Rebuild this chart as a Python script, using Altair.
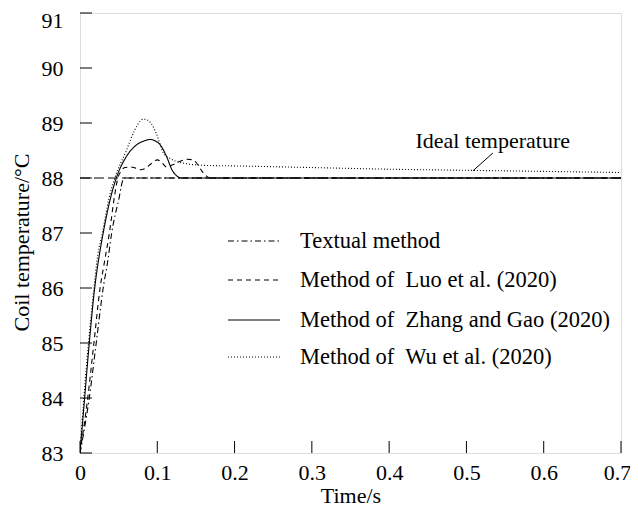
import altair as alt
import pandas as pd

# ---------------- data ----------------
series_names = [
    "Textual method",
    "Method of\u00a0 Luo et al. (2020)",
    "Method of\u00a0 Zhang and Gao (2020)",
    "Method of\u00a0 Wu et al. (2020)",
]

t_textual = [0, 0.012, 0.021, 0.030, 0.036, 0.041, 0.050, 0.057, 0.7]
v_textual = [83, 84, 85, 86, 86.5, 87, 87.6, 88, 88]

t_luo = [0, 0.010, 0.018, 0.026, 0.032, 0.038, 0.045, 0.049, 0.053, 0.058, 0.066, 0.072,
         0.078, 0.085, 0.092, 0.100, 0.106, 0.112, 0.120, 0.129, 0.138, 0.146, 0.152,
         0.158, 0.164, 0.170, 0.7]
v_luo = [83, 84, 85, 86, 86.5, 87, 87.7, 88, 88.12, 88.19, 88.2, 88.18,
         88.15, 88.18, 88.26, 88.33, 88.28, 88.2, 88.24, 88.3, 88.34, 88.33, 88.25,
         88.12, 88.03, 88.0, 88.0]

t_zhang = [0, 0.006, 0.012, 0.019, 0.025, 0.030, 0.038, 0.047, 0.060, 0.073, 0.082, 0.091,
           0.098, 0.104, 0.112, 0.119, 0.125, 0.132, 0.7]
v_zhang = [83, 84, 85, 86, 86.6, 87, 87.55, 88, 88.39, 88.6, 88.67, 88.70,
           88.67, 88.6, 88.39, 88.15, 88.04, 88.0, 88.0]

t_wu = [0, 0.005, 0.011, 0.018, 0.023, 0.029, 0.037, 0.045, 0.060, 0.070, 0.076, 0.082,
        0.088, 0.094, 0.099, 0.104, 0.108, 0.116, 0.125, 0.138, 0.16, 0.2, 0.3, 0.4,
        0.5, 0.6, 0.7]
v_wu = [83, 84, 85, 86, 86.6, 87, 87.6, 88, 88.5, 88.85, 89.0, 89.07,
        89.05, 88.95, 88.8, 88.6, 88.45, 88.36, 88.3, 88.26, 88.23, 88.22, 88.19, 88.16,
        88.14, 88.12, 88.1]

ideal_t = [0, 0.7]
ideal_v = [88, 88]

x_ticks = [0, 0.1, 0.2, 0.3, 0.4, 0.5, 0.6, 0.7]
y_ticks = [83, 84, 85, 86, 87, 88, 89, 90, 91]

annot_text = "Ideal temperature"
annot_pos = [0.534, 88.545]
annot_line_t = [0.5343, 0.5084]
annot_line_v = [88.455, 88.13]

dashes = [[6, 3, 1.5, 3], [5, 4], [1, 0], [1, 2]]

# ---------------- build tables ----------------
rows = []
for name, ts, vs in zip(series_names,
                        [t_textual, t_luo, t_zhang, t_wu],
                        [v_textual, v_luo, v_zhang, v_wu]):
    for i, (t, v) in enumerate(zip(ts, vs)):
        rows.append({"series": name, "t": t, "v": v, "o": i})
df = pd.DataFrame(rows)

W, H = 541, 440
FONT = "Liberation Serif"
FS = 22

xs = alt.Scale(domain=[0, 0.7], nice=False, zero=False)
ys = alt.Scale(domain=[83, 91], nice=False, zero=False)

dash_scale = alt.Scale(domain=series_names, range=dashes)

base_x = alt.X("t:Q", scale=xs,
               axis=alt.Axis(title="Time/s", values=x_ticks, format=".1~f",
                             grid=False, ticks=False, domain=False,
                             labelFont=FONT, labelFontSize=FS, labelColor="black",
                             labelPadding=9,
                             labelOffset=alt.condition("datum.value >= 0.69",
                                                       alt.value(-4), alt.value(0)),
                             titleFont=FONT, titleFontSize=FS,
                             titleFontWeight="normal", titleColor="black",
                             titlePadding=2, labelFlush=False))
base_y = alt.Y("v:Q", scale=ys,
               axis=alt.Axis(title="Coil temperature/°C", values=y_ticks,
                             grid=False, ticks=False, domain=False,
                             labelFont=FONT, labelFontSize=FS, labelColor="black",
                             labelPadding=17,
                             labelOffset=alt.condition("datum.value == 91",
                                                       alt.value(7), alt.value(0)),
                             titleFont=FONT, titleFontSize=FS,
                             titleFontWeight="normal", titleColor="black",
                             titlePadding=8, titleY=229, labelFlush=False))

lines = alt.Chart(df).mark_line(color="black", strokeWidth=1.1,
                                interpolate="monotone", clip=True).encode(
    x=base_x, y=base_y,
    strokeDash=alt.StrokeDash("series:N", scale=dash_scale, legend=None),
    order="o:Q",
    detail="series:N",
)

ideal_df = pd.DataFrame({"t": ideal_t, "v": ideal_v})
ideal = alt.Chart(ideal_df).mark_line(color="black", strokeWidth=1.1,
                                      strokeDash=[10, 4]).encode(
    x=alt.X("t:Q", scale=xs), y=alt.Y("v:Q", scale=ys))

# inward ticks
yt = alt.Chart(pd.DataFrame({"v": y_ticks})).mark_rule(color="black", strokeWidth=1).encode(
    y=alt.Y("v:Q", scale=ys), x=alt.value(0), x2=alt.value(12))
xt = alt.Chart(pd.DataFrame({"t": x_ticks})).mark_rule(color="black", strokeWidth=1).encode(
    x=alt.X("t:Q", scale=xs), y=alt.value(H), y2=alt.value(H - 12))

# annotation
ann_text = alt.Chart(pd.DataFrame({"t": [annot_pos[0]], "v": [annot_pos[1]],
                                   "label": [annot_text]})).mark_text(
    font=FONT, fontSize=FS, color="black", align="center", baseline="alphabetic").encode(
    x=alt.X("t:Q", scale=xs), y=alt.Y("v:Q", scale=ys), text="label:N")
ann_line = alt.Chart(pd.DataFrame({"t": annot_line_t, "v": annot_line_v})).mark_line(
    color="black", strokeWidth=1).encode(
    x=alt.X("t:Q", scale=xs), y=alt.Y("v:Q", scale=ys))

# manual legend
legend_layers = []
row_y = [228, 267, 307, 344]
for name, dash, ry in zip(series_names, dashes, row_y):
    leg_df = pd.DataFrame({"series": [name]})
    legend_layers.append(
        alt.Chart(leg_df).mark_rule(color="black", strokeWidth=1.1, strokeDash=dash).encode(
            x=alt.value(148), x2=alt.value(200), y=alt.value(ry)))
    legend_layers.append(
        alt.Chart(leg_df).mark_text(font=FONT, fontSize=22.5, color="black",
                                    align="left", baseline="middle").encode(
            x=alt.value(220), y=alt.value(ry), text="series:N"))

chart = alt.layer(ideal, lines, yt, xt, ann_line, ann_text, *legend_layers).properties(
    width=W, height=H,
    autosize=alt.AutoSizeParams(type="none"),
    padding={"left": 72, "top": 5, "right": 9, "bottom": 59},
).configure_view(stroke="black", strokeWidth=1.2).configure(background="white")

chart.save("out.html", embed_options={"renderer": "svg", "actions": False})
